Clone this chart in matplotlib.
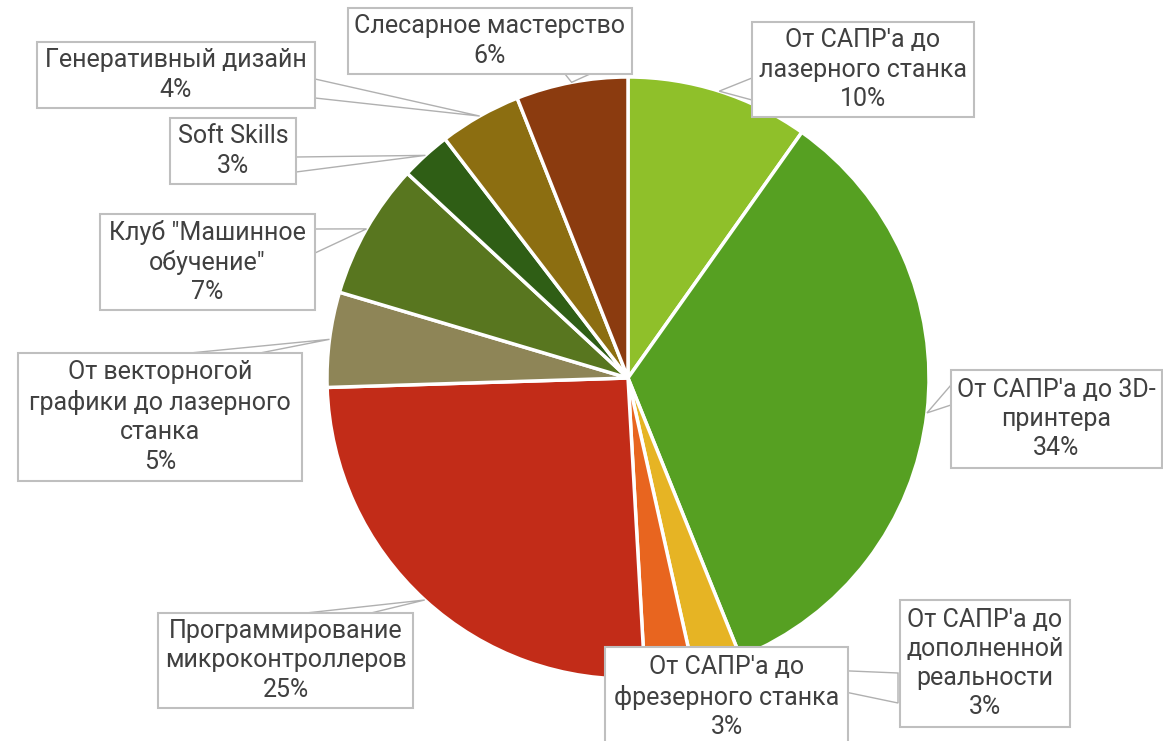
import numpy as np
import matplotlib.pyplot as plt
from matplotlib.patches import Rectangle, Polygon

plt.rcParams['font.family'] = ['Roboto', 'DejaVu Sans']

# данные
labels = ["От САПР'а до\nлазерного станка",
          "От САПР'а до 3D-\nпринтера",
          "От САПР'а до\nдополненной\nреальности",
          "От САПР'а до\nфрезерного станка",
          "Программирование\nмикроконтроллеров",
          "От векторногой\nграфики до лазерного\nстанка",
          "Клуб \"Машинное\nобучение\"",
          "Soft Skills",
          "Генеративный дизайн",
          "Слесарное мастерство"]
values = [9.8, 34.1, 2.6, 2.6, 25.4, 5.1, 7.3, 2.7, 4.4, 6.0]
colors = ['#8FC02A', '#56A022', '#E6B424', '#E8651F', '#C22C18',
          '#8E8557', '#58761F', '#2F5E15', '#8C6E11', '#8B3B0F']

H = 741
cx, cy, R = 628, 378, 301

# рамки подписей: x0, y0, x1, y1 (пиксели, сверху вниз)
boxes = [(752, 22, 974, 117),
         (951, 370, 1162, 468),
         (900, 600, 1070, 727),
         (605, 647, 848, 770),
         (158, 613, 413, 708),
         (18, 353, 302, 481),
         (100, 214, 315, 310),
         (170, 118, 296, 184),
         (37, 42, 315, 108),
         (348, 8, 632, 74)]
text_y = [None, None, None, 697, None, None, None, None, None, None]
# основания выносок
bases = [((752, 78), (752, 100)),
         ((951, 385), (951, 405)),
         ((898, 673), (898, 703)),
         ((700, 660), (720, 660)),
         ((306, 613), (371, 613)),
         ((190, 353), (260, 353)),
         ((315, 229), (315, 253)),
         ((296, 157), (296, 172)),
         ((315, 79), (315, 98)),
         ((565, 74), (590, 74))]

fig = plt.figure(figsize=(11.63, 7.41), dpi=100)
ax = fig.add_axes([0, 0, 1, 1])
ax.pie(values, colors=colors, startangle=90, counterclock=False,
       radius=R, center=(cx, H - cy),
       wedgeprops=dict(edgecolor='white', linewidth=2.5))
ax.set_xlim(0, 1163)
ax.set_ylim(0, H)
ax.set_aspect('auto')
ax.axis('off')

total = sum(values)
cum = np.cumsum([0] + values)
for i, lab in enumerate(labels):
    mid = (cum[i] + values[i] / 2) / total * 2 * np.pi
    tx = cx + R * np.sin(mid)
    ty = cy - R * np.cos(mid)
    (b1, b2) = bases[i]
    ax.add_patch(Polygon([(tx, H - ty), (b1[0], H - b1[1]), (b2[0], H - b2[1])],
                         closed=True, fc='white', ec='#B0B0B0', lw=1, zorder=3))
    x0, y0, x1, y1 = boxes[i]
    ax.add_patch(Rectangle((x0, H - y1), x1 - x0, y1 - y0, fc='white',
                           ec='#BFBFBF', lw=1.5, zorder=4))
    ty_txt = text_y[i] if text_y[i] else (y0 + y1) / 2
    ax.text((x0 + x1) / 2, H - ty_txt, f"{lab}\n{round(values[i])}%",
            ha='center', va='center', fontsize=18, color='#404040',
            linespacing=1.28, zorder=5)

fig.savefig('out.png', dpi=100)
